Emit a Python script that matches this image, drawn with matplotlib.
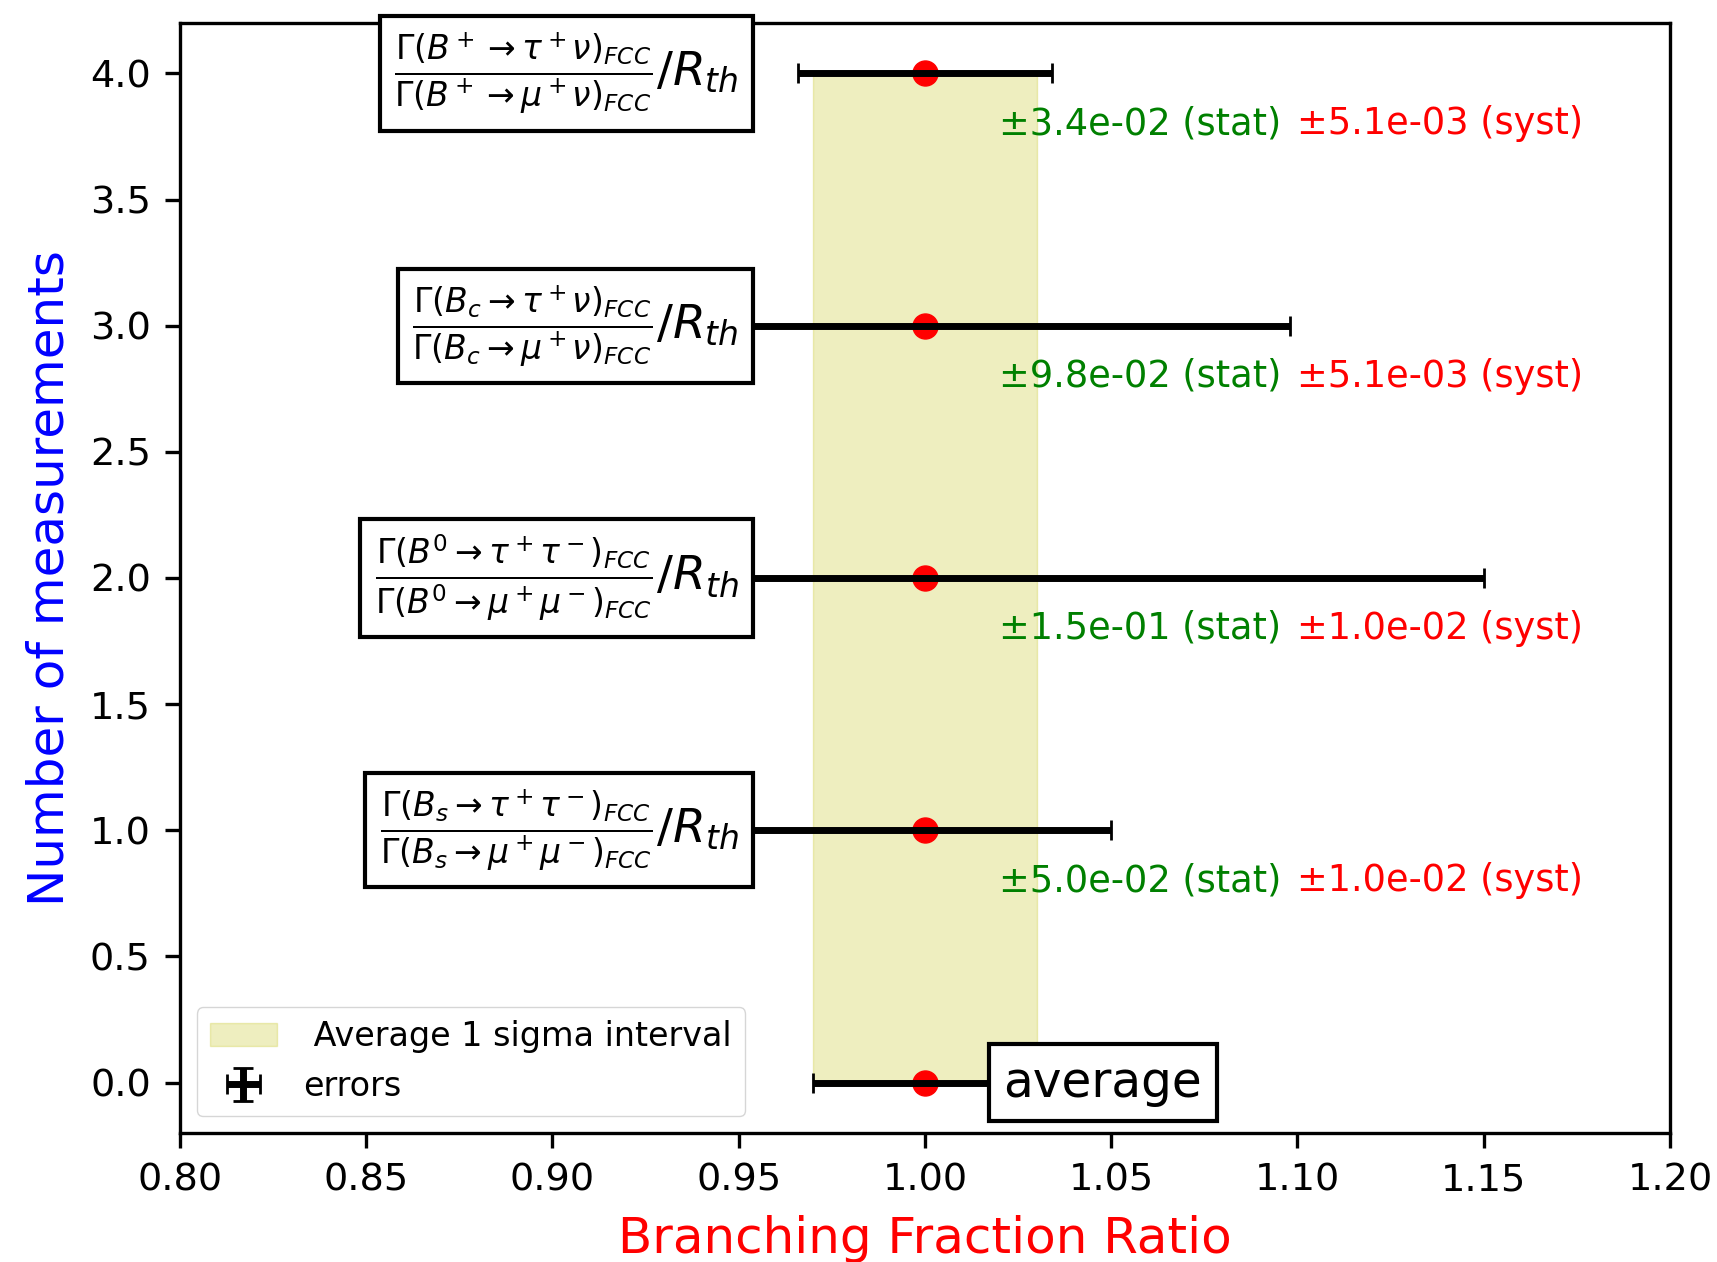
import numpy as np
import matplotlib.pyplot as plt

# ratios measured at FCC, normalised to the theory prediction
y_pos = [1, 2, 3, 4]
ratio = [1.0, 1.0, 1.0, 1.0]
stat = [0.050, 0.150, 0.098, 0.034]
syst = [0.010, 0.010, 0.0051, 0.0051]
labels = [
    r'$\frac{\Gamma(B_s\to\tau^+\tau^-)_{FCC}}{\Gamma(B_s\to\mu^+\mu^-)_{FCC}}/R_{th}$',
    r'$\frac{\Gamma(B^0\to\tau^+\tau^-)_{FCC}}{\Gamma(B^0\to\mu^+\mu^-)_{FCC}}/R_{th}$',
    r'$\frac{\Gamma(B_c\to\tau^+\nu)_{FCC}}{\Gamma(B_c\to\mu^+\nu)_{FCC}}/R_{th}$',
    r'$\frac{\Gamma(B^+\to\tau^+\nu)_{FCC}}{\Gamma(B^+\to\mu^+\nu)_{FCC}}/R_{th}$',
]

avg = 1.0
avg_err = 0.03

s = 3.0  # line scale

fig = plt.figure(figsize=(17.17, 12.62), dpi=100)
ax = fig.add_axes([0.1048, 0.1022, 0.8678, 0.8796])
for sp in ax.spines.values():
    sp.set_linewidth(0.8 * s)
ax.tick_params(width=0.8 * s, length=3.5 * s, pad=3.5 * s, labelsize=27.5)

# 1 sigma band of the average
ax.fill_betweenx([0, 4], avg - avg_err, avg + avg_err, color='y', alpha=0.25,
                 label=' Average 1 sigma interval')

ax.plot(ratio, y_pos, 'ro', ms=6 * s, zorder=2)
ax.plot([avg], [0], 'ro', ms=6 * s, zorder=2)
ax.errorbar(ratio, y_pos, xerr=stat, yerr=0, fmt='none', ecolor='black',
            elinewidth=5, capsize=7, capthick=2, label='errors', zorder=3)
ax.errorbar([avg], [0], xerr=[avg_err], fmt='none', ecolor='black',
            elinewidth=5, capsize=7, capthick=2, zorder=3)

box = dict(boxstyle='square,pad=0.3', facecolor='white', edgecolor='black', linewidth=s)
for yy, lab in zip(y_pos, labels):
    ax.text(0.95, yy, lab, ha='right', va='center', fontsize=34, bbox=box,
            clip_on=False, zorder=5)
for yy, st, sy in zip(y_pos, stat, syst):
    ax.text(1.02, yy - 0.2, '±%.1e (stat)' % st, color='green', fontsize=26.5,
            va='center', ha='left')
    ax.text(1.10, yy - 0.2, '±%.1e (syst)' % sy, color='red', fontsize=26.5,
            va='center', ha='left')
ax.text(1.021, 0, 'average', ha='left', va='center', fontsize=35, bbox=box, zorder=5)

ax.set_xlim(0.8, 1.2)
ax.set_ylim(-0.2, 4.2)
ax.set_xticks(np.arange(0.80, 1.201, 0.05))
ax.set_yticks(np.arange(0.0, 4.01, 0.5))
ax.set_xlabel('Branching Fraction Ratio', color='red', fontsize=36, labelpad=4 * s)
ax.set_ylabel('Number of measurements', color='blue', fontsize=36, labelpad=4 * s)
ax.set_title('Toy fits (p)', color='red', fontsize=36, pad=27)
ax.legend(loc='lower left', fontsize=24)

fig.savefig('out.png', dpi=100)
